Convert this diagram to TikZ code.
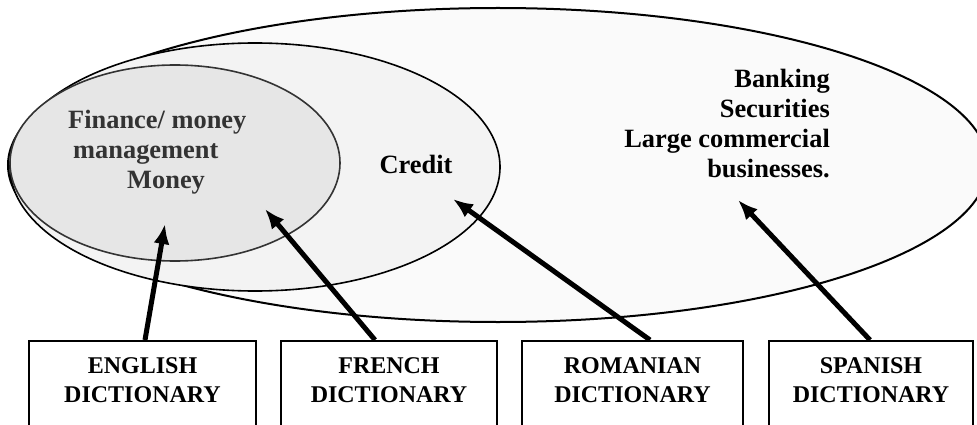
\documentclass[tikz,border=0pt]{standalone}
\usepackage{fontspec}
\setmainfont{Liberation Serif}
\usetikzlibrary{arrows.meta,positioning}

\definecolor{outerfill}{RGB}{250,250,250}
\definecolor{midfill}{RGB}{243,243,243}
\definecolor{innerfill}{RGB}{230,230,230}
\definecolor{darktext}{RGB}{51,51,51}

\begin{document}
\begin{tikzpicture}[x=1pt,y=-1pt,font=\bfseries\fontsize{26.4pt}{30pt}\selectfont,
  dictbox/.style={draw,line width=2pt,minimum height=110pt,anchor=north},
  dicttext/.style={align=center,inner sep=0pt,font=\bfseries\fontsize{24pt}{29pt}\selectfont},
  pointer/.style={-{Latex[length=20pt,width=16pt]},line width=5pt}]

  \useasboundingbox (0,0) rectangle (977,425);

  % areas
  \draw[line width=2pt,fill=outerfill] (498,165) ellipse [x radius=490pt,y radius=157pt];
  \draw[line width=1.6pt,fill=midfill] (255,167) ellipse [x radius=245pt,y radius=124pt];
  \draw[line width=1.6pt,draw=darktext,fill=innerfill] (175,163) ellipse [x radius=165pt,y radius=98pt];

  \node[anchor=north west,inner sep=0pt,align=left,text=darktext] (finance) at (68,110)
    {Finance/ money\\\hspace*{5pt}management\\\hspace*{59pt}Money};
  \node[anchor=base] (credit) at (416,173) {Credit};
  \node[anchor=north east,inner sep=0pt,align=right] (banking) at (830,69)
    {Banking\\Securities\\Large commercial\\businesses.};

  % dictionaries
  \node[dictbox,minimum width=227pt] (engbox) at (142.5,340) {};
  \node[dictbox,minimum width=216pt,right=23pt of engbox] (frbox) {};
  \node[dictbox,minimum width=221pt,right=23pt of frbox] (robox) {};
  \node[dictbox,minimum width=204pt,right=24pt of robox] (esbox) {};

  \node[dicttext,below=17pt of engbox.north] (englabel) {ENGLISH\\DICTIONARY};
  \node[dicttext,below=17pt of frbox.north] (frlabel) {FRENCH\\DICTIONARY};
  \node[dicttext,below=17pt of robox.north] (rolabel) {ROMANIAN\\DICTIONARY};
  \node[dicttext,below=17pt of esbox.north] (eslabel) {SPANISH\\DICTIONARY};

  \coordinate (engtip) at (165,224);
  \coordinate (frtip) at (265,209);
  \coordinate (rotip) at (453,199);
  \coordinate (estip) at (738,200);

  \draw[pointer] ([xshift=2.5pt]engbox.north) -- (engtip);
  \draw[pointer] ([xshift=-14pt]frbox.north) -- (frtip);
  \draw[pointer] ([xshift=17.5pt]robox.north) -- (rotip);
  \draw[pointer] ([xshift=-1pt]esbox.north) -- (estip);

\end{tikzpicture}
\end{document}
